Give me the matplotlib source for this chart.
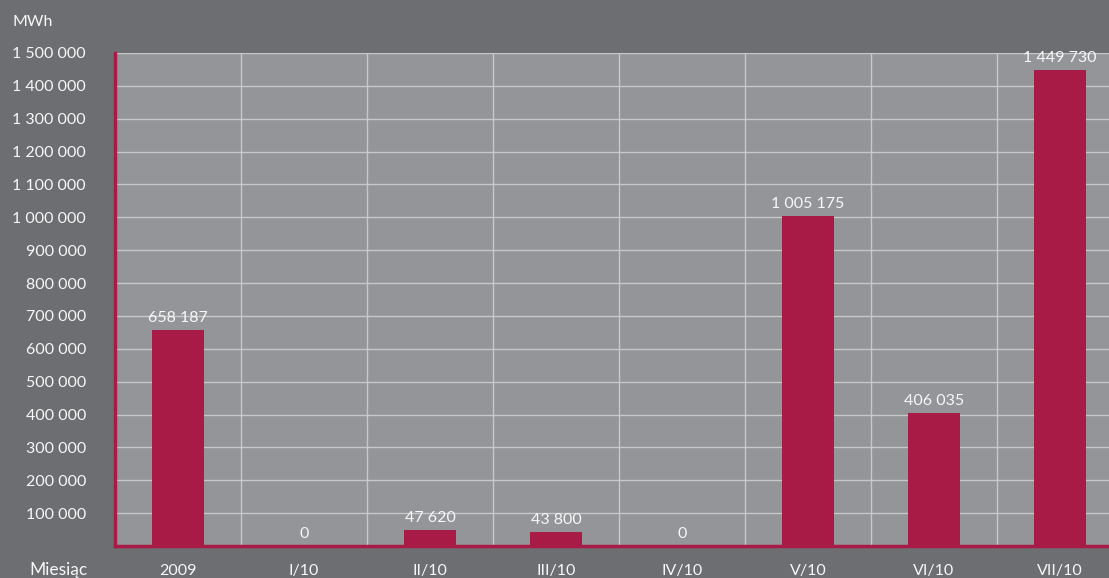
import matplotlib.pyplot as plt
import numpy as np

# dane
months = ['2009', 'I/10', 'II/10', 'III/10', 'IV/10', 'V/10', 'VI/10', 'VII/10']
energy_mwh = [658187, 0, 47620, 43800, 0, 1005175, 406035, 1449730]
yticks = list(range(100000, 1500001, 100000))

def fmt(v):
    return f'{v:,}'.replace(',', ' ')

bg = '#6d6e71'
plot_bg = '#939598'
bar_col = '#a91b47'
txt = '#f7f7f7'
fs = 11.5
plt.rcParams['font.family'] = ['Lato', 'DejaVu Sans']

fig = plt.figure(figsize=(11.09, 5.78), dpi=100, facecolor=bg)
W, H = 1109, 578
left, right, top, bottom = 115, 1123, 53, 546
ax = fig.add_axes([left / W, 1 - bottom / H, (right - left) / W, (bottom - top) / H])
ax.set_facecolor(plot_bg)

x = np.arange(len(months))
ax.bar(x, energy_mwh, width=0.42, color=bar_col, zorder=3)
for xi, v in zip(x, energy_mwh):
    ax.text(xi, v + 15000, fmt(v), ha='center', va='bottom', color=txt, fontsize=fs, zorder=4)

ax.set_xlim(-0.5, len(months) - 0.5)
ax.set_ylim(0, 1500000)
ax.set_yticks(yticks)
ax.set_yticklabels([fmt(t) for t in yticks])
ax.set_xticks(x)
ax.set_xticklabels(months)
ax.set_xticks(np.arange(0.5, len(months) - 0.5, 1), minor=True)
ax.grid(True, which='major', axis='y', color='#c8c8c8', lw=1, zorder=1)
ax.grid(True, which='minor', axis='x', color='#c8c8c8', lw=1, zorder=1)
ax.tick_params(which='both', length=0, colors=txt, labelsize=fs)
ax.yaxis.set_tick_params(pad=(left - 86) * 0.72)
ax.tick_params(axis='x', pad=13)

for s in ['top', 'right']:
    ax.spines[s].set_visible(False)
for s in ['left', 'bottom']:
    ax.spines[s].set_color(bar_col)
    ax.spines[s].set_linewidth(2.5)
    ax.spines[s].set_zorder(5)

fig.text(12 / W, 1 - 22 / H, 'MWh', color=txt, fontsize=fs, va='center', ha='left')
fig.text(88 / W, 1 - 570 / H, 'Miesiąc', color=txt, fontsize=12.5, va='center', ha='right')

plt.savefig('out.png', dpi=100, facecolor=bg)
